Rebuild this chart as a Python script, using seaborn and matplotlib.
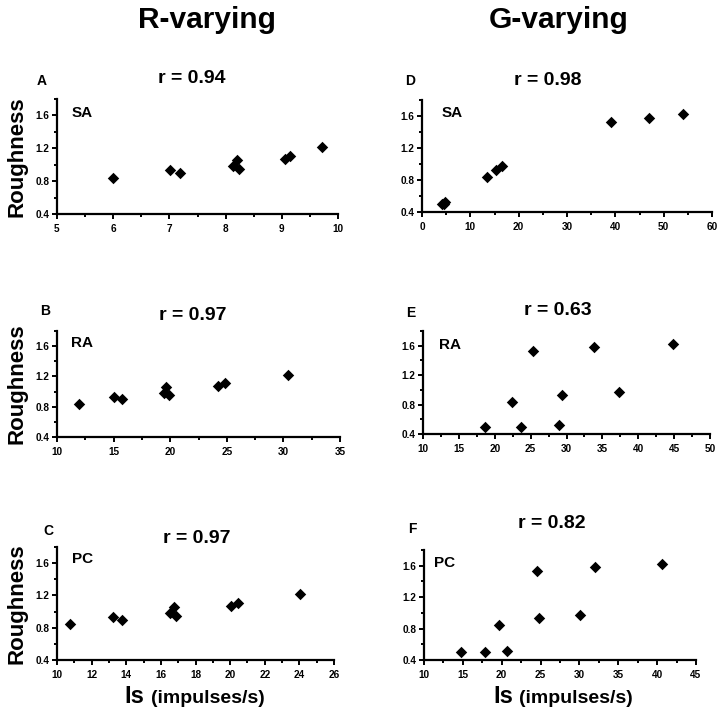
import matplotlib
matplotlib.use("Agg")
import matplotlib.pyplot as plt
from matplotlib.ticker import MultipleLocator, FormatStrFormatter
import seaborn as sns
import pandas as pd

# ---------------- data ----------------
ROUGH_R = [0.84, 0.93, 0.90, 0.98, 1.06, 0.95, 1.07, 1.11, 1.22]
IS_SA_R = [6.00, 7.01, 7.18, 8.14, 8.20, 8.24, 9.06, 9.15, 9.72]
IS_RA_R = [11.95, 15.0, 15.7, 19.45, 19.65, 19.9, 24.25, 24.85, 30.4]
IS_PC_R = [10.75, 13.25, 13.75, 16.55, 16.75, 16.9, 20.05, 20.45, 24.05]

ROUGH_G = [0.50, 0.50, 0.52, 0.84, 0.93, 0.97, 1.53, 1.58, 1.62]
IS_SA_G = [4.2, 4.5, 4.7, 13.4, 15.4, 16.6, 39.2, 47.0, 54.0]
IS_RA_G = [18.6, 23.6, 28.9, 22.4, 29.4, 37.3, 25.3, 33.9, 44.8]
IS_PC_G = [14.7, 17.9, 20.7, 19.7, 24.85, 30.1, 24.6, 32.0, 40.6]

COLUMN_TITLES = ["R-varying", "G-varying"]
PANEL_LETTERS = ["A", "B", "C", "D", "E", "F"]
AFFERENTS = ["SA", "RA", "PC", "SA", "RA", "PC"]
R_VALUES = ["0.94", "0.97", "0.97", "0.98", "0.63", "0.82"]
YLABEL = "Roughness"
XLABEL_MAIN = "Is"
XLABEL_UNIT = "(impulses/s)"
Y_TICKS = [0.4, 0.8, 1.2, 1.6]

# ---------------- style ----------------
sns.set_style("ticks")
plt.rcParams['font.family'] = ['Liberation Sans', 'DejaVu Sans']
plt.rcParams['font.weight'] = 'bold'
plt.rcParams['text.color'] = 'black'
plt.rcParams['axes.labelcolor'] = 'black'
plt.rcParams['xtick.color'] = 'black'
plt.rcParams['ytick.color'] = 'black'
plt.rcParams['axes.edgecolor'] = 'black'

W, H = 720, 712
fig = plt.figure(figsize=(W / 100, H / 100), dpi=100)


def fx(x):
    return x / W


def fy(y):
    return 1 - y / H


panels = [
    # (x data, y data, axes box px (x0, x1, ytop, ybot), xlim, major, minor)
    (IS_SA_R, ROUGH_R, (57, 338, 99, 214), (5, 10), 1, 0.5),
    (IS_RA_R, ROUGH_R, (57, 340, 331, 437), (10, 35), 5, 2.5),
    (IS_PC_R, ROUGH_R, (57, 334, 547, 660), (10, 26), 2, 1),
    (IS_SA_G, ROUGH_G, (422, 712, 100, 212), (0, 60), 10, 5),
    (IS_RA_G, ROUGH_G, (423, 710, 331, 434), (10, 50), 5, 2.5),
    (IS_PC_G, ROUGH_G, (424, 696, 550, 660), (10, 45), 5, 2.5),
]

letter_pos = [(37, 85), (40, 315), (43, 535), (405, 85), (406, 317), (408, 533)]
r_pos = [(192, 83), (193, 320), (197, 543), (548, 85), (558, 315), (552, 528)]
aff_pos = [(72, 117), (71, 347), (72, 563), (442, 117), (439, 349), (434, 567)]

for i, (xs, ys, box, xlim, maj, mnr) in enumerate(panels):
    x0, x1, yt, yb = box
    ax = fig.add_axes([fx(x0), fy(yb), (x1 - x0) / W, (yb - yt) / H])
    df = pd.DataFrame({"Is": xs, "Roughness": ys})
    sns.scatterplot(data=df, x="Is", y="Roughness", ax=ax, marker="D",
                    color="black", s=34, linewidth=0, clip_on=False, zorder=3)
    ax.set_xlim(*xlim)
    ax.set_ylim(0.4, 1.8)
    ax.set_xlabel("")
    ax.set_ylabel("")
    ax.set_yticks(Y_TICKS)
    ax.yaxis.set_major_formatter(FormatStrFormatter("%.1f"))
    ax.yaxis.set_minor_locator(MultipleLocator(0.2))
    ax.xaxis.set_major_locator(MultipleLocator(maj))
    ax.xaxis.set_minor_locator(MultipleLocator(mnr))
    ax.xaxis.set_major_formatter(FormatStrFormatter("%d"))
    for side in ("top", "right"):
        ax.spines[side].set_visible(False)
    for side in ("left", "bottom"):
        ax.spines[side].set_linewidth(1.6)
        ax.spines[side].set_color("black")
    ax.tick_params(which="major", length=3.5, width=1.4, color="black",
                   labelsize=7.2, pad=2, labelcolor="black")
    ax.tick_params(which="minor", length=2.5, width=1.4, color="black")
    ax.tick_params(axis="x", which="major", pad=4)
    for lab in ax.get_xticklabels() + ax.get_yticklabels():
        lab.set_fontweight("bold")

    # afferent label inside axes
    fig.text(fx(aff_pos[i][0]), fy(aff_pos[i][1]), AFFERENTS[i],
             fontsize=11, fontweight="bold", ha="left", va="baseline")
    # panel letters
    fig.text(fx(letter_pos[i][0]), fy(letter_pos[i][1]), PANEL_LETTERS[i],
             fontsize=10, fontweight="bold", ha="left", va="baseline")
    # correlation
    fig.text(fx(r_pos[i][0]), fy(r_pos[i][1]), "r = " + R_VALUES[i],
             fontsize=14, fontweight="bold", ha="center", va="baseline")
    # y label on left column
    if i < 3:
        fig.text(fx(17), fy((yt + yb) / 2), YLABEL, fontsize=16,
                 fontweight="bold", rotation=90, ha="center", va="center")

# column titles
fig.text(fx(207), fy(28), COLUMN_TITLES[0], fontsize=21.5,
         fontweight="bold", ha="center", va="baseline")
fig.text(fx(559), fy(28), COLUMN_TITLES[1], fontsize=21.5,
         fontweight="bold", ha="center", va="baseline")

# x labels on bottom row
for xm, xu in [(124, 151), (493, 519)]:
    fig.text(fx(xm), fy(703), XLABEL_MAIN, fontsize=17, fontweight="bold",
             ha="left", va="baseline")
    fig.text(fx(xu), fy(703), XLABEL_UNIT, fontsize=14, fontweight="bold",
             ha="left", va="baseline")

fig.savefig("out.png", dpi=100)
